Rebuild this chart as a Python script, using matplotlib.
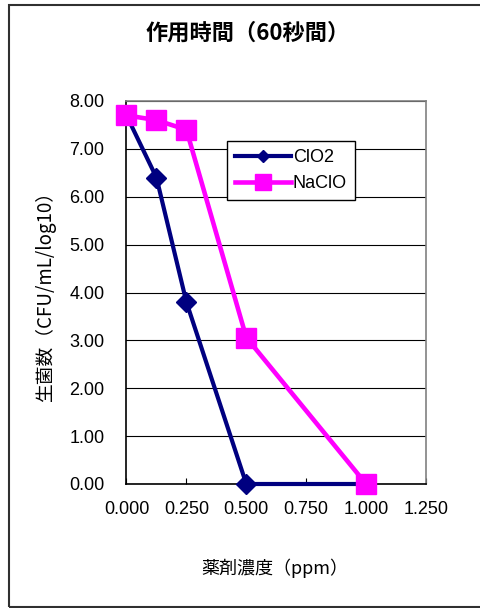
import matplotlib
matplotlib.use("Agg")
import matplotlib.pyplot as plt
from matplotlib.lines import Line2D
from matplotlib.patches import Rectangle

# Concentration of the agent (ppm)
conc = [0.0, 0.125, 0.25, 0.5, 1.0]
# Viable count (log10 CFU/mL) after 60 s contact
clo2 = [7.70, 6.40, 3.80, 0.00, 0.00]
naclo = [7.70, 7.60, 7.40, 3.06, 0.00]

x_ticks = [0.0, 0.25, 0.5, 0.75, 1.0, 1.25]
x_tick_labels = ["0.000", "0.250", "0.500", "0.750", "1.000", "1.250"]
y_ticks = [0, 1, 2, 3, 4, 5, 6, 7, 8]
y_tick_labels = ["0.00", "1.00", "2.00", "3.00", "4.00", "5.00", "6.00", "7.00", "8.00"]

title = "作用時間（60秒間）"
x_label = "薬剤濃度（ppm）"
y_label = "生菌数（CFU/mL/log10）"
series_names = ["ClO2", "NaClO"]

NAVY = "#000080"
MAGENTA = "#FF00FF"
CJK = ["Noto Sans CJK JP", "DejaVu Sans"]
LATIN = ["Liberation Sans", "DejaVu Sans"]

W, H = 481, 608
fig = plt.figure(figsize=(W / 100, H / 100), dpi=100)
fig.patch.set_facecolor("white")

# chart frame
fig.add_artist(Rectangle((9 / W, 1 - 607 / H), 1.2, (607 - 5) / H,
                         transform=fig.transFigure, fill=False,
                         edgecolor="#303030", linewidth=1.5))

left, right, top, bottom = 126.5, 426, 101, 484
ax = fig.add_axes([left / W, 1 - bottom / H, (right - left) / W, (bottom - top) / H])

ax.set_xlim(0, 1.25)
ax.set_ylim(0, 8)
ax.set_xticks(x_ticks)
ax.set_xticklabels(x_tick_labels, fontfamily=LATIN, fontsize=13)
ax.set_yticks(y_ticks)
ax.set_yticklabels(y_tick_labels, fontfamily=LATIN, fontsize=13)
ax.tick_params(axis="x", direction="in", length=4, width=0.8, pad=12, colors="black")
ax.tick_params(axis="y", length=0, pad=16)
ax.grid(axis="y", color="black", linewidth=0.8)
ax.set_axisbelow(True)

for side in ("left", "bottom"):
    ax.spines[side].set_color("black")
    ax.spines[side].set_linewidth(1.2)
for side in ("top", "right"):
    ax.spines[side].set_color("#808080")
    ax.spines[side].set_linewidth(1.2)

ax.plot(conc, clo2, color=NAVY, linewidth=3, marker="D", markersize=10,
        markerfacecolor=NAVY, markeredgecolor=NAVY, clip_on=False, zorder=3)
ax.plot(conc, naclo, color=MAGENTA, linewidth=3.3, marker="s", markersize=15,
        markerfacecolor=MAGENTA, markeredgecolor=MAGENTA, clip_on=False, zorder=4)

handles = [
    Line2D([], [], color=NAVY, linewidth=3, marker="D", markersize=6.5),
    Line2D([], [], color=MAGENTA, linewidth=3.3, marker="s", markersize=11),
]
leg = ax.legend(handles, series_names, loc="upper left",
                bbox_to_anchor=((227 - left) / (right - left), (bottom - 141) / (bottom - top)),
                borderaxespad=0, frameon=True, fancybox=False, shadow=False,
                prop={"family": LATIN, "size": 13}, handlelength=3.1,
                handletextpad=0.1, labelspacing=0.5, borderpad=0.45)
leg.get_frame().set_edgecolor("black")
leg.get_frame().set_linewidth(1.0)
leg.get_frame().set_facecolor("white")
leg.get_frame().set_alpha(1)
leg.set_zorder(5)

fig.text(248 / W, 1 - 33 / H, title, ha="center", va="center",
         fontfamily=CJK, fontsize=16, fontweight="bold")
fig.text(275 / W, 1 - 568 / H, x_label, ha="center", va="center",
         fontfamily=CJK, fontsize=13)
fig.text(45 / W, 1 - 292 / H, y_label, ha="center", va="center",
         rotation=90, fontfamily=CJK, fontsize=13.5)

fig.savefig("out.png", dpi=100, facecolor="white")
